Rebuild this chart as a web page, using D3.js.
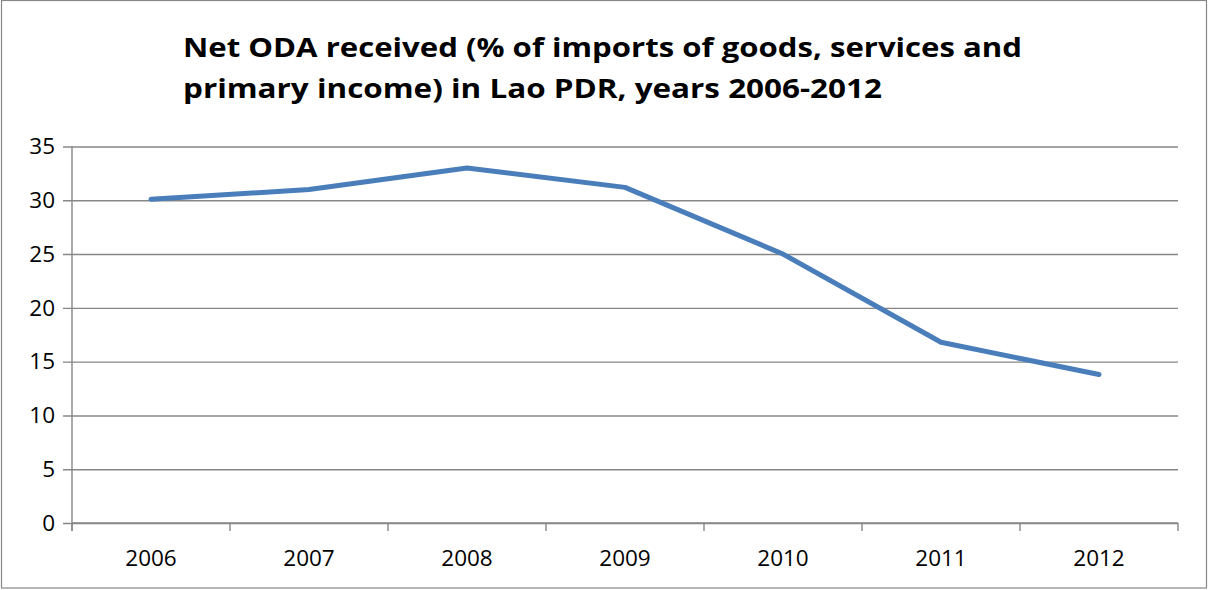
<!DOCTYPE html>
<html>
<head>
<meta charset="utf-8">
<script src="https://cdn.jsdelivr.net/npm/d3@7"></script>
<style>
  html, body { margin: 0; padding: 0; background: #fff; }
  svg { display: block; }
  text { font-family: "Open Sans", Lato, sans-serif; fill: #000; }
</style>
</head>
<body>
<svg id="chart" width="1208" height="590"></svg>
<script>
// Net ODA received (% of imports of goods, services and primary income), Lao PDR
const years = ["2006", "2007", "2008", "2009", "2010", "2011", "2012"];
const odaShare = [30.1, 31.0, 33.0, 31.2, 25.0, 16.8, 13.8];
const yTicks = [0, 5, 10, 15, 20, 25, 30, 35];
const titleLines = [
  "Net ODA received (% of imports of goods, services and",
  "primary income) in Lao PDR, years 2006-2012"
];
const titleWidths = [839, 699];

const svg = d3.select("#chart");
const W = 1208, H = 590;
const plot = { left: 72, right: 1178, top: 146.5, bottom: 523 };

// outer frame
svg.append("rect")
  .attr("x", 1.5).attr("y", 0.5)
  .attr("width", W - 3).attr("height", H - 2.5)
  .attr("fill", "#fff").attr("stroke", "#888").attr("stroke-width", 1.2);

const x = d3.scaleBand().domain(years).range([plot.left, plot.right]);
const y = d3.scaleLinear().domain([0, 35]).range([plot.bottom, plot.top]);

// horizontal gridlines with short left ticks
const yAxis = d3.axisLeft(y).tickValues(yTicks).tickSize(-(plot.right - plot.left)).tickPadding(17);
const gy = svg.append("g").attr("transform", `translate(${plot.left},0)`).call(yAxis);
gy.select(".domain").remove();
gy.selectAll(".tick line")
  .attr("x1", -9)
  .attr("stroke", "#878787").attr("stroke-width", 1.4);
gy.selectAll(".tick text")
  .attr("font-size", 22.5).attr("font-family", "'Open Sans', sans-serif")
  .attr("fill", "#000");

// vertical axis line
svg.append("line")
  .attr("x1", plot.left).attr("x2", plot.left)
  .attr("y1", plot.top).attr("y2", plot.bottom + 8)
  .attr("stroke", "#878787").attr("stroke-width", 1.4);

// category axis: ticks at band boundaries, labels at band centres
const gx = svg.append("g").attr("transform", `translate(0,${plot.bottom})`);
gx.append("line")
  .attr("x1", plot.left).attr("x2", plot.right)
  .attr("stroke", "#878787").attr("stroke-width", 1.4);
const bounds = years.map(d => x(d)).concat([x(years[years.length - 1]) + x.bandwidth()]);
gx.selectAll("line.tk").data(bounds).enter().append("line")
  .attr("class", "tk")
  .attr("x1", d => d).attr("x2", d => d)
  .attr("y1", 0).attr("y2", 8)
  .attr("stroke", "#878787").attr("stroke-width", 1.4);
gx.selectAll("text").data(years).enter().append("text")
  .attr("x", d => x(d) + x.bandwidth() / 2)
  .attr("y", 43)
  .attr("text-anchor", "middle")
  .attr("font-size", 22.5)
  .text(d => d);

// data line
const line = d3.line()
  .x((d, i) => x(years[i]) + x.bandwidth() / 2)
  .y(d => y(d));
svg.append("path")
  .datum(odaShare)
  .attr("d", line)
  .attr("fill", "none")
  .attr("stroke", "#4a7ebb")
  .attr("stroke-width", 5)
  .attr("stroke-linejoin", "round")
  .attr("stroke-linecap", "round");

// title
const title = svg.append("g");
title.selectAll("text").data(titleLines).enter().append("text")
  .attr("x", 183)
  .attr("y", (d, i) => 57 + i * 41)
  .attr("font-family", "'Open Sans', Lato, sans-serif")
  .attr("font-size", 27)
  .attr("font-weight", 700)
  .attr("textLength", (d, i) => titleWidths[i])
  .attr("lengthAdjust", "spacingAndGlyphs")
  .text(d => d);
</script>
</body>
</html>
